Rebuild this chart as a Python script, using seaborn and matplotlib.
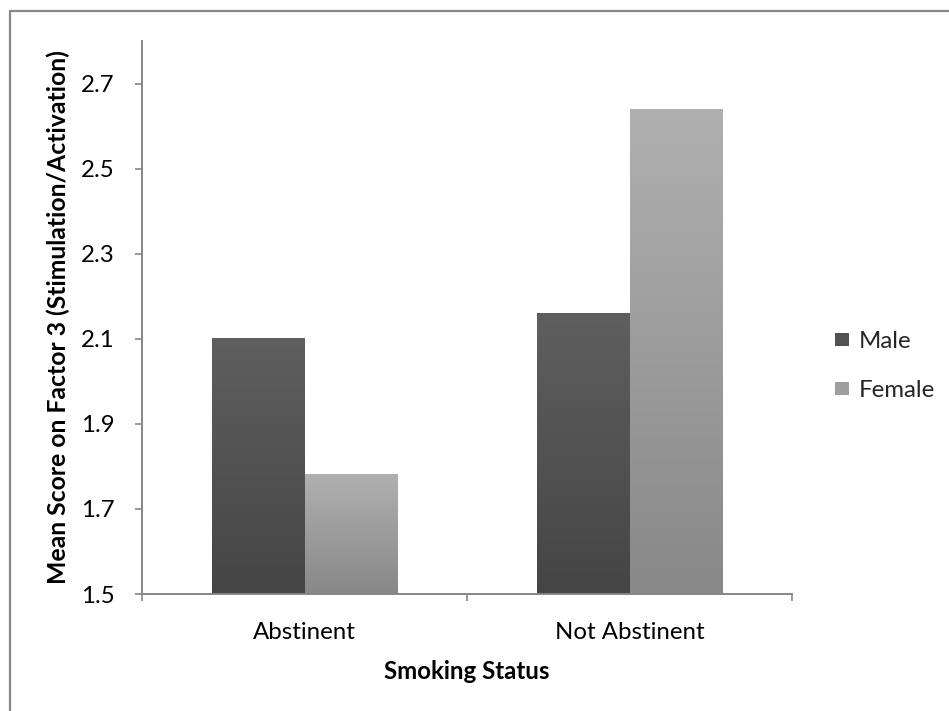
import numpy as np
import pandas as pd
import matplotlib
matplotlib.use("Agg")
import matplotlib.pyplot as plt
import seaborn as sns
from matplotlib.colors import LinearSegmentedColormap
from matplotlib.patches import Patch
from matplotlib.lines import Line2D

# ---- data ----
categories = ["Abstinent", "Not Abstinent"]
genders = ["Male", "Female"]
male_values = [2.10, 2.16]
female_values = [1.78, 2.64]
y_ticks = [1.5, 1.7, 1.9, 2.1, 2.3, 2.5, 2.7]
y_label = "Mean Score on Factor 3 (Stimulation/Activation)"
x_label = "Smoking Status"

df = pd.DataFrame({
    "Smoking Status": categories * 2,
    "Gender": ["Male"] * len(categories) + ["Female"] * len(categories),
    "Score": male_values + female_values,
})

sns.set_theme(style="white")
plt.rcParams["font.family"] = ["Lato", "DejaVu Sans"]

W, H = 949, 711
fig = plt.figure(figsize=(W / 100, H / 100), dpi=100)
fig.patch.set_facecolor("white")
ax = fig.add_axes([142 / W, 1 - 594 / H, 650 / W, 553 / H])

YMIN, YMAX = 1.5, 2.8
palette = {"Male": "#535353", "Female": "#9c9c9c"}
sns.barplot(data=df, x="Smoking Status", y="Score", hue="Gender",
            order=categories, hue_order=genders, palette=palette,
            width=0.572, gap=0, saturation=1, ax=ax, legend=False,
            edgecolor="none", linewidth=0)

# gradient overlay on the visible part of each bar
grad = {
    "Male": ("#5f5f5f", "#454545"),
    "Female": ("#b0b0b0", "#888888"),
}
patches = list(ax.patches)
for i, p in enumerate(patches):
    g = genders[i // len(categories)]
    top_c, bot_c = grad[g]
    cmap = LinearSegmentedColormap.from_list("g", [bot_c, top_c])
    x0 = p.get_x()
    w = p.get_width()
    top = p.get_y() + p.get_height()
    ax.imshow(np.linspace(0, 1, 256).reshape(-1, 1), cmap=cmap,
              extent=[x0, x0 + w, YMIN, top], origin="lower",
              aspect="auto", zorder=p.get_zorder() + 0.1,
              interpolation="bilinear")
ax.set_xlim(-0.5, 1.5)
ax.set_ylim(YMIN, YMAX)

spine_c = "#868686"
for s in ["top", "right"]:
    ax.spines[s].set_visible(False)
for s in ["left", "bottom"]:
    ax.spines[s].set_color(spine_c)
    ax.spines[s].set_linewidth(1.4)
    ax.spines[s].set_zorder(5)

FS = 17.3
ax.set_yticks(y_ticks)
ax.set_yticklabels([f"{v:.1f}" for v in y_ticks])
ax.tick_params(axis="y", direction="out", length=5, width=1.2, color=spine_c,
               labelsize=FS, labelcolor="black", pad=8, left=True)
ax.set_xticks([-0.5, 0.5, 1.5])
ax.set_xticklabels(["", "", ""])
ax.set_xticks([0, 1], minor=True)
ax.set_xticklabels(categories, minor=True)
ax.tick_params(axis="x", which="major", direction="out", length=5, width=1.2,
               color=spine_c, bottom=True)
ax.tick_params(axis="x", which="minor", length=0, labelsize=FS,
               labelcolor="black", pad=20)

ax.set_ylabel(y_label, fontsize=17.8, fontweight="bold", color="black")
ax.set_xlabel(x_label, fontsize=FS, fontweight="bold", color="black")

# fine-tune tick label positions to the reference pixel positions
fig.canvas.draw()
r = fig.canvas.get_renderer()
bb = ax.get_yticklabels()[-1].get_window_extent(r)
ax.tick_params(axis="y", pad=8 + (bb.x1 - 115) * 0.72)
bb = ax.get_xticklabels(minor=True)[0].get_window_extent(r)
cur_top = H - bb.y1
ax.tick_params(axis="x", which="minor", pad=20 + (622 - cur_top) * 0.72)

# axis label positions (pixel-based, in figure coordinates)
ax.yaxis.set_label_coords(70 / W, 1 - 317 / H, transform=fig.transFigure)
ax.xaxis.set_label_coords(467 / W, 1 - 660 / H, transform=fig.transFigure)

# legend
handles = [Patch(facecolor="#525252", edgecolor="none"),
           Patch(facecolor="#9e9e9e", edgecolor="none")]
fig.legend(handles, genders, loc="center left",
           bbox_to_anchor=(835 / W, 1 - 366 / H), frameon=False,
           fontsize=FS, handlelength=0.6, handleheight=0.5,
           handletextpad=0.38, labelspacing=1.17, borderpad=0,
           borderaxespad=0)

# outer frame (top and left edges visible)
fig.add_artist(Line2D([10 / W, 10 / W], [0, 1 - 11 / H],
                      transform=fig.transFigure, color="#878787", lw=1.6))
fig.add_artist(Line2D([10 / W, 1], [1 - 11 / H, 1 - 11 / H],
                      transform=fig.transFigure, color="#878787", lw=1.6))

fig.savefig("out.png", dpi=100, facecolor="white")
